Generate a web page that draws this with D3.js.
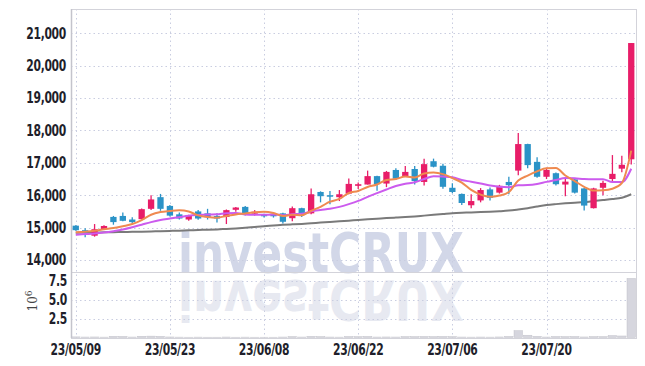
<!DOCTYPE html>
<html><head><meta charset="utf-8">
<script src="https://cdn.jsdelivr.net/npm/d3@7"></script>
<style>
html,body{margin:0;padding:0;background:#fff;}
svg{display:block;}
.lbl{font-family:"DejaVu Sans Condensed","DejaVu Sans",sans-serif;font-weight:bold;font-size:15px;fill:#1f1f2b;letter-spacing:-0.4px;}
</style></head><body>
<svg id="c" width="645" height="366"></svg>
<script>
const dates = ["23/05/09","23/05/10","23/05/11","23/05/12","23/05/15","23/05/16","23/05/17","23/05/18","23/05/19","23/05/22",
"23/05/23","23/05/24","23/05/25","23/05/26","23/05/30","23/05/31","23/06/01","23/06/02","23/06/05","23/06/07",
"23/06/08","23/06/09","23/06/12","23/06/13","23/06/14","23/06/15","23/06/16","23/06/19","23/06/20","23/06/21",
"23/06/22","23/06/23","23/06/26","23/06/27","23/06/28","23/06/29","23/06/30","23/07/03","23/07/04","23/07/05",
"23/07/06","23/07/07","23/07/10","23/07/11","23/07/12","23/07/13","23/07/14","23/07/17","23/07/18","23/07/19",
"23/07/20","23/07/21","23/07/24","23/07/25","23/07/26","23/07/27","23/07/28","23/07/31","23/08/01","23/08/02"];
const open  = [15060,14920,14750,14950,15330,15360,15250,15260,15580,15940,15670,15410,15250,15500,15440,15360,15330,15550,15640,15430,
15420,15430,15440,15290,15600,15440,16100,16000,15940,16050,16290,16330,16590,16360,16780,16580,16810,16410,17050,16910,
16230,16040,15690,15840,16180,16080,16410,16760,17580,17030,16570,16680,16330,16490,16210,15600,16230,16500,16820,17110];
const high  = [15070,14980,15110,15070,15360,15470,15320,15590,16000,16040,15700,15470,15400,15540,15580,15440,15560,15640,15670,15540,
15430,15460,15460,15650,15610,16210,16120,16130,16160,16520,16390,16760,16600,16750,16830,16900,16900,17130,17130,16970,
16370,16050,16030,16220,16240,16320,16570,17920,17590,17170,16850,16700,16500,16510,16220,16230,16450,17240,17220,20700];
const low   = [14900,14700,14720,14930,15090,15200,15130,15250,15540,15520,15340,15250,15210,15240,15250,15160,15110,15490,15370,15370,
15310,15310,15130,15200,15330,15410,15780,15720,15820,16030,16190,16330,16140,16250,16470,16570,16330,16300,16860,16200,
16060,15700,15600,15780,15840,16050,16030,16620,16830,16540,16500,16300,15970,16050,15530,15590,16000,16420,16710,16950];
const close = [14920,14840,14950,15050,15170,15210,15170,15570,15870,15580,15370,15280,15380,15280,15320,15280,15540,15620,15430,15490,
15350,15350,15180,15600,15430,16030,15970,15970,16030,16350,16340,16590,16340,16720,16510,16720,16440,16960,16880,16260,
16100,15760,15820,16160,15920,16290,16310,17580,16930,16570,16780,16340,16420,16080,15680,16210,16380,16660,16940,20700];
const volume = [0.08,0.06,0.07,0.05,0.15,0.14,0.06,0.16,0.18,0.15,0.07,0.05,0.04,0.05,0.04,0.04,0.06,0.04,0.05,0.04,
0.04,0.04,0.06,0.12,0.06,0.15,0.12,0.06,0.05,0.13,0.12,0.14,0.06,0.07,0.06,0.12,0.12,0.14,0.12,0.14,
0.12,0.06,0.05,0.06,0.05,0.07,0.14,0.9,0.3,0.15,0.06,0.13,0.12,0.13,0.07,0.12,0.12,0.25,0.2,7.8]; // millions
const ma5 = [14855,14875,14905,14950,14986,15044,15110,15234,15398,15480,15512,15534,15496,15378,15326,15308,15360,15408,15438,15472,
15486,15448,15360,15394,15382,15518,15642,15800,15886,16070,16132,16256,16330,16468,16500,16576,16546,16670,16702,16652,
16528,16392,16164,16020,15952,15990,16100,16452,16606,16736,16834,16840,16608,16438,16260,16146,16154,16202,16374,17378];
const ma10 = [14780,14800,14820,14850,14890,14940,15010,15090,15170,15233,15278,15322,15365,15388,15403,15410,15447,15452,15408,15399,
15397,15404,15384,15416,15427,15502,15545,15580,15640,15726,15825,15949,16065,16177,16285,16354,16401,16500,16585,16576,
16552,16469,16417,16361,16302,16259,16246,16308,16313,16344,16412,16470,16530,16522,16498,16490,16497,16405,16406,16819];
const ma60 = [14840,14845,14850,14855,14860,14865,14870,14875,14882,14890,14898,14905,14915,14925,14935,14945,14960,14975,14995,15020,
15045,15065,15085,15100,15115,15135,15155,15175,15195,15215,15235,15255,15275,15295,15310,15325,15345,15370,15395,15420,
15445,15460,15470,15480,15490,15505,15525,15560,15600,15650,15695,15725,15750,15770,15790,15820,15850,15880,15920,16030];
const priceTicks = [14000,15000,16000,17000,18000,19000,20000,21000];
const volTicks = [2.5,5.0,7.5];
const xTickIdx = [0,10,20,30,40,50];

const svg = d3.select("#c");
const L=71, R=636, T=9, MID=272, B=338;
const x = d3.scaleBand().domain(d3.range(dates.length)).range([L,R]).paddingInner(0.33).paddingOuter(0.17);
const xc = i => x(i) + x.bandwidth()/2;
const y = d3.scaleLinear().domain([13629,21751]).range([MID,T]);
const yv = d3.scaleLinear().domain([0,8.65]).range([337.5,MID]);

// watermark
const wmStyle = s => s.style("font-family","'DejaVu Sans',sans-serif").style("font-weight","bold").style("font-size","55px");
const wm = svg.append("g");
wm.append("text").attr("x",178).attr("y",272).attr("textLength",286).attr("lengthAdjust","spacingAndGlyphs")
  .call(wmStyle).style("fill","#d2d7e8").text("investCRUX");
wm.append("text").attr("transform","translate(0,553) scale(1,-1)").attr("x",178).attr("y",272).attr("textLength",286).attr("lengthAdjust","spacingAndGlyphs")
  .call(wmStyle).style("fill","#e7e9f1").text("investCRUX");

// grid
const grid = svg.append("g").attr("stroke","#c9cde0").attr("stroke-width",1).attr("stroke-dasharray","1.5,3");
priceTicks.forEach(v=>grid.append("line").attr("x1",L).attr("x2",R).attr("y1",Math.round(y(v))+0.5).attr("y2",Math.round(y(v))+0.5));
volTicks.forEach(v=>grid.append("line").attr("x1",L).attr("x2",R).attr("y1",Math.round(yv(v))+0.5).attr("y2",Math.round(yv(v))+0.5));
xTickIdx.forEach(i=>grid.append("line").attr("x1",Math.round(xc(i))+0.5).attr("x2",Math.round(xc(i))+0.5).attr("y1",T).attr("y2",B));

// frame
const fr = svg.append("g").attr("stroke","#d3d3da").attr("fill","none");
fr.append("rect").attr("x",L+0.5).attr("y",T+0.5).attr("width",R-L).attr("height",B-T);
fr.append("line").attr("x1",L).attr("x2",R).attr("y1",MID+0.5).attr("y2",MID+0.5);
fr.append("line").attr("x1",L+0.5).attr("x2",L+0.5).attr("y1",T).attr("y2",B).attr("stroke","#c4c4cc").attr("stroke-width",1.5);

// volume bars
const vw = x.step()*0.9;
svg.append("g").selectAll("rect").data(volume).join("rect")
  .attr("x",(d,i)=>xc(i)-vw/2).attr("width",vw)
  .attr("y",d=>yv(d)).attr("height",d=>yv(0)-yv(d))
  .attr("fill","#d6d6de").attr("stroke","#c2c2ca").attr("stroke-width",0.5);

// MA60 line
const line = arr => d3.line().x((d,i)=>xc(i)).y(d=>y(d)).curve(d3.curveMonotoneX)(arr);
svg.append("path").attr("d",line(ma60)).attr("fill","none").attr("stroke","#7a7a7a").attr("stroke-width",2);

// candles
const up="#e81d68", dn="#2b93c7";
const cg = svg.append("g");
dates.forEach((d,i)=>{
  const col = close[i]>=open[i]?up:dn;
  cg.append("line").attr("x1",xc(i)).attr("x2",xc(i)).attr("y1",y(high[i])).attr("y2",y(low[i])).attr("stroke",col).attr("stroke-width",1.3);
  const t=y(Math.max(open[i],close[i])), b=y(Math.min(open[i],close[i]));
  cg.append("rect").attr("x",x(i)).attr("width",x.bandwidth()).attr("y",t).attr("height",Math.max(1.5,b-t)).attr("fill",col);
});

// MA lines
svg.append("path").attr("d",line(ma10)).attr("fill","none").attr("stroke","#cc5bee").attr("stroke-width",2);
svg.append("path").attr("d",line(ma5)).attr("fill","none").attr("stroke","#ef8a50").attr("stroke-width",2);

// labels (narrowed to match the condensed face)
const fmt = d3.format(",");
const lab = (px,py,anchor,txt) => svg.append("text").attr("class","lbl")
  .attr("transform",`translate(${px},${py}) scale(0.8,1)`).attr("dy","0.36em").attr("text-anchor",anchor).text(txt);
priceTicks.forEach(v=>lab(66,y(v),"end",fmt(v)));
volTicks.forEach(v=>lab(67,yv(v),"end",v.toFixed(1)));
xTickIdx.forEach(i=>lab(xc(i),350,"middle",dates[i]));
const ex = svg.append("text").attr("transform","translate(37,301) rotate(-90)").attr("text-anchor","middle")
  .style("font-family","'DejaVu Serif',serif").style("font-size","12px").style("fill","#444");
ex.append("tspan").text("10");
ex.append("tspan").attr("dy","-5").style("font-size","9px").text("6");
</script>
</body></html>
